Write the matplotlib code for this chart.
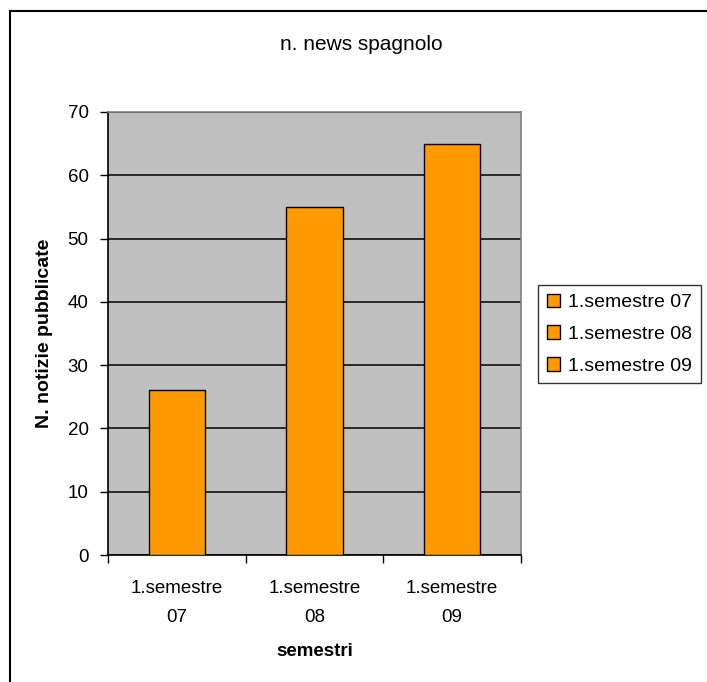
import matplotlib
matplotlib.use("Agg")
import matplotlib.pyplot as plt
from matplotlib.patches import Patch, Rectangle

categories = ["1.semestre\n07", "1.semestre\n08", "1.semestre\n09"]
legend_labels = ["1.semestre 07", "1.semestre 08", "1.semestre 09"]
values = [26, 55, 65]
yticks = [0, 10, 20, 30, 40, 50, 60, 70]

plt.rcParams['font.family'] = ['Liberation Sans', 'DejaVu Sans']

W, H = 707, 682
fig = plt.figure(figsize=(W / 100, H / 100), dpi=100)
fig.patch.set_facecolor("white")

# outer chart border (right/bottom edges lie outside the image)
fig.patches.append(Rectangle((10 / W, -0.2), 1.5, 1 - 11 / H + 0.2,
                             transform=fig.transFigure, fill=False,
                             edgecolor="black", linewidth=1.5, zorder=0))

ax = fig.add_axes([108 / W, 1 - 555 / H, (521 - 108) / W, (555 - 112) / H])
ax.set_facecolor("#C0C0C0")

x = range(len(values))
ax.bar(x, values, width=0.41, color="#FF9900", edgecolor="black",
       linewidth=1.0, zorder=3)

ax.set_xlim(-0.5, 2.5)
ax.set_ylim(0, 70)
ax.set_yticks(yticks)
ax.set_yticklabels([str(v) for v in yticks], fontsize=13.5)
ax.yaxis.grid(True, color="black", linewidth=1.1, zorder=1)
ax.set_axisbelow(True)

ax.set_xticks([-0.5, 0.5, 1.5, 2.5])
ax.set_xticklabels([])
ax.set_xticks([0, 1, 2], minor=True)
ax.set_xticklabels(categories, minor=True, fontsize=13.5, linespacing=1.9)
ax.tick_params(axis="x", which="minor", length=0, pad=18)
ax.tick_params(axis="x", which="major", length=6, width=1, direction="out")
ax.tick_params(axis="y", length=6, width=1, direction="out", pad=8)

for s in ["left", "bottom"]:
    ax.spines[s].set_color("black")
    ax.spines[s].set_linewidth(1.2)
for s in ["top", "right"]:
    ax.spines[s].set_color("#808080")
    ax.spines[s].set_linewidth(1.2)

ax.set_ylabel("N. notizie pubblicate", fontsize=14, fontweight="bold")
ax.yaxis.set_label_coords((45 - 108) / (521 - 108), 0.5)
ax.yaxis.label.set_va("center")
ax.set_xlabel("semestri", fontsize=13.5, fontweight="bold")
ax.xaxis.set_label_coords(0.5, (555 - 651) / (555 - 112))
ax.xaxis.label.set_va("center")

fig.text(361 / W, 1 - 45 / H, "n. news spagnolo", fontsize=15,
         ha="center", va="center")

handles = [Patch(facecolor="#FF9900", edgecolor="black", linewidth=1.0)
           for _ in legend_labels]
leg = fig.legend(handles, legend_labels, loc="upper left",
                 bbox_to_anchor=(538 / W, 1 - 285 / H), fontsize=14,
                 frameon=True, fancybox=False, handlelength=0.7,
                 handleheight=0.7, handletextpad=0.4, labelspacing=0.72,
                 borderpad=0.45, borderaxespad=0)
leg.get_frame().set_edgecolor("black")
leg.get_frame().set_linewidth(1.0)

fig.savefig("out.png", dpi=100)
